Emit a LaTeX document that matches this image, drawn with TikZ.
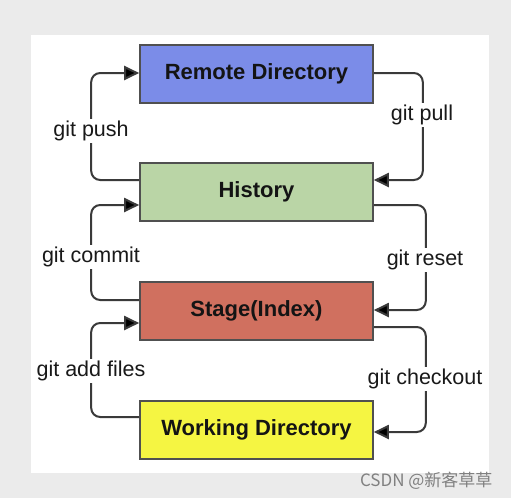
\documentclass[tikz,border=0pt]{standalone}
\usepackage{fontspec}
\setmainfont{Liberation Sans}
\newfontfamily\cjkfont{Noto Sans CJK SC}
\usetikzlibrary{arrows.meta}
\definecolor{bggray}{HTML}{EBEBEB}
\definecolor{remotec}{HTML}{7B8CE8}
\definecolor{histc}{HTML}{BAD5A6}
\definecolor{stagec}{HTML}{D0705F}
\definecolor{workc}{HTML}{F5F542}
\definecolor{edgec}{HTML}{505050}
\definecolor{linec}{HTML}{3A3A3A}
\tikzset{
  box/.style={draw=edgec, line width=1.6pt, minimum width=233pt, minimum height=58pt,
    inner sep=0pt, font=\fontsize{22}{25}\selectfont\bfseries, text=black!92},
  conn/.style={draw=linec, line width=2pt, rounded corners=9pt,
    -{Triangle[length=15pt,width=14pt,fill=black]}},
  lbl/.style={fill=white, inner sep=2pt, font=\fontsize{21.5}{25}\selectfont, text=black!90}
}
\begin{document}
\begin{tikzpicture}[x=1pt,y=-1pt]
\useasboundingbox (0,0) rectangle (511,498);
\fill[bggray] (0,0) rectangle (511,498);
\fill[white] (31,35) rectangle (489,473);

\node[box, fill=remotec] (remote) at (256.5,74) {Remote Directory};
\node[box, fill=histc]   (hist)   at (256.5,192) {History};
\node[box, fill=stagec]  (stage)  at (256.5,311) {Stage(Index)};
\node[box, fill=workc]   (work)   at (256.5,430) {Working Directory};

\draw[conn] ([yshift=12pt]hist.west) -- ++(-48,0) |- ([yshift=1pt]remote.west);
\draw[conn] ([yshift=1pt]remote.east) -- ++(49,0) |- ([yshift=12pt]hist.east);
\draw[conn] ([yshift=11pt]stage.west) -- ++(-48,0) |- ([yshift=-13pt]hist.west);
\draw[conn] ([yshift=-13pt]hist.east) -- ++(52,0) |- ([yshift=1pt]stage.east);
\draw[conn] ([yshift=13pt]work.west) -- ++(-48,0) |- ([yshift=-12pt]stage.west);
\draw[conn] ([yshift=-16pt]stage.east) -- ++(52,0) |- ([yshift=-2pt]work.east);

\node[lbl] (lpush)  at (91,131) {git push};
\node[lbl] (lpull)  at (422,115) {git pull};
\node[lbl] (lcommit) at (91,257) {git commit};
\node[lbl] (lreset) at (425,260) {git reset};
\node[lbl] (ladd)   at (91,371) {git add files};
\node[lbl] (lcheck) at (425,379) {git checkout};

\node[font=\cjkfont\fontsize{17}{20}\selectfont, text=black!50, anchor=east] (wm) at (496,481) {CSDN @新客草草};
\end{tikzpicture}
\end{document}
